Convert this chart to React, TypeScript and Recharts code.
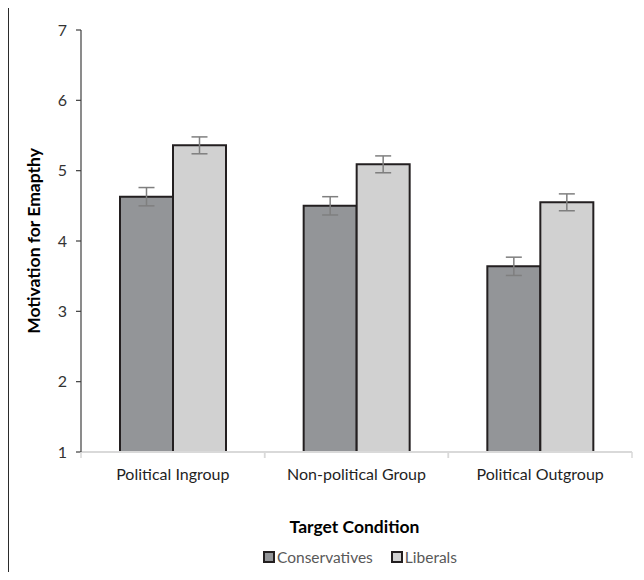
import React from 'react';
import { BarChart, Bar, XAxis, YAxis, ErrorBar, Label } from 'recharts';

const categories = ['Political Ingroup', 'Non-political Group', 'Political Outgroup'];
const conservatives = [4.63, 4.5, 3.64];
const conservativesErr = [0.13, 0.13, 0.13];
const liberals = [5.36, 5.09, 4.55];
const liberalsErr = [0.12, 0.12, 0.12];
const yTicks = [1, 2, 3, 4, 5, 6, 7];
const seriesNames = ['Conservatives', 'Liberals'];
const yTitle = 'Motivation for Emapthy';
const xTitle = 'Target Condition';

const data = categories.map((c, i) => ({
  category: c,
  cons: conservatives[i],
  consErr: conservativesErr[i],
  lib: liberals[i],
  libErr: liberalsErr[i],
}));

const FONT = 'Lato, "Open Sans", sans-serif';
const CONS_FILL = '#939598';
const LIB_FILL = '#d1d1d1';
const BAR_STROKE = '#231f20';
const ERR = '#7f7f7f';

const XTick = (props: any) => {
  const { x, y, payload } = props;
  const half = payload && typeof payload.offset === 'number' && payload.offset > 0 ? payload.offset : 91.8;
  return (
    <g>
      <line x1={x - half} y1={y} x2={x - half} y2={y + 6} stroke="#d9d9d9" strokeWidth={1.5} />
      <line x1={x + half} y1={y} x2={x + half} y2={y + 6} stroke="#d9d9d9" strokeWidth={1.5} />
      <text x={x} y={y + 28} textAnchor="middle" fontSize={16} fill="#1f1f1f" fontFamily={FONT}>
        {payload.value}
      </text>
    </g>
  );
};

const YTitle = (props: any) => {
  const vb = props.viewBox || {};
  const cx = 40;
  const cy = (vb.y ?? 30) + (vb.height ?? 422) / 2;
  return (
    <text
      x={cx}
      y={cy}
      transform={`rotate(-90 ${cx} ${cy})`}
      textAnchor="middle"
      fontSize={17.5}
      fontWeight="bold"
      fill="#000"
      fontFamily={FONT}
    >
      {yTitle}
    </text>
  );
};

const XTitle = (props: any) => {
  const vb = props.viewBox || {};
  const cx = (vb.x ?? 81) + (vb.width ?? 551) / 2 - 2;
  return (
    <text x={cx} y={533} textAnchor="middle" fontSize={17.5} fontWeight="bold" fill="#000" fontFamily={FONT}>
      {xTitle}
    </text>
  );
};

export default function App() {
  const fills = [CONS_FILL, LIB_FILL];
  return (
    <div
      style={{
        position: 'relative',
        width: 644,
        height: 580,
        margin: -8,
        overflow: 'hidden',
        background: '#fff',
        fontFamily: FONT,
      }}
    >
      <BarChart
        width={644}
        height={580}
        data={data}
        margin={{ top: 30, right: 12, bottom: 98, left: 0 }}
        barGap={0}
      >
        <g className="frame">
          <line x1={8} y1={5} x2={8} y2={600} stroke="#2b2b2b" strokeWidth={2} />
          <line x1={7} y1={6} x2={660} y2={6} stroke="#2b2b2b" strokeWidth={2} />
        </g>
        <XAxis
          dataKey="category"
          height={30}
          axisLine={{ stroke: '#d9d9d9', strokeWidth: 2 }}
          tickLine={false}
          tickSize={0}
          tickMargin={0}
          tick={<XTick />}
          interval={0}
        >
          <Label content={<XTitle />} />
        </XAxis>
        <YAxis
          width={81}
          domain={[1, 7]}
          ticks={yTicks}
          type="number"
          allowDataOverflow
          axisLine={{ stroke: '#3f3f3f', strokeWidth: 1.2 }}
          tickLine={{ stroke: '#3f3f3f', strokeWidth: 1.2 }}
          tickSize={5}
          tickMargin={9}
          tick={{ fontSize: 16, fill: '#333', fontFamily: FONT }}
        >
          <Label content={<YTitle />} />
        </YAxis>
        <Bar
          dataKey="cons"
          name={seriesNames[0]}
          fill={CONS_FILL}
          stroke={BAR_STROKE}
          strokeWidth={2}
          barSize={53}
          isAnimationActive={false}
        >
          <ErrorBar dataKey="consErr" width={8} strokeWidth={1.5} stroke={ERR} direction="y" />
        </Bar>
        <Bar
          dataKey="lib"
          name={seriesNames[1]}
          fill={LIB_FILL}
          stroke={BAR_STROKE}
          strokeWidth={2}
          barSize={53}
          isAnimationActive={false}
        >
          <ErrorBar dataKey="libErr" width={8} strokeWidth={1.5} stroke={ERR} direction="y" />
        </Bar>
      </BarChart>
      <div
        style={{
          position: 'absolute',
          left: 81,
          width: 558,
          top: 547,
          display: 'flex',
          justifyContent: 'center',
          alignItems: 'center',
          fontSize: 15.5,
          color: '#595959',
          lineHeight: '20px',
        }}
      >
        {seriesNames.map((n, i) => (
          <div key={n} style={{ display: 'flex', alignItems: 'center', marginRight: i === 0 ? 18 : 0 }}>
            <span
              style={{
                display: 'inline-block',
                width: 8,
                height: 8,
                background: fills[i],
                border: `2px solid ${BAR_STROKE}`,
                marginRight: 2,
              }}
            />
            <span>{n}</span>
          </div>
        ))}
      </div>
    </div>
  );
}
